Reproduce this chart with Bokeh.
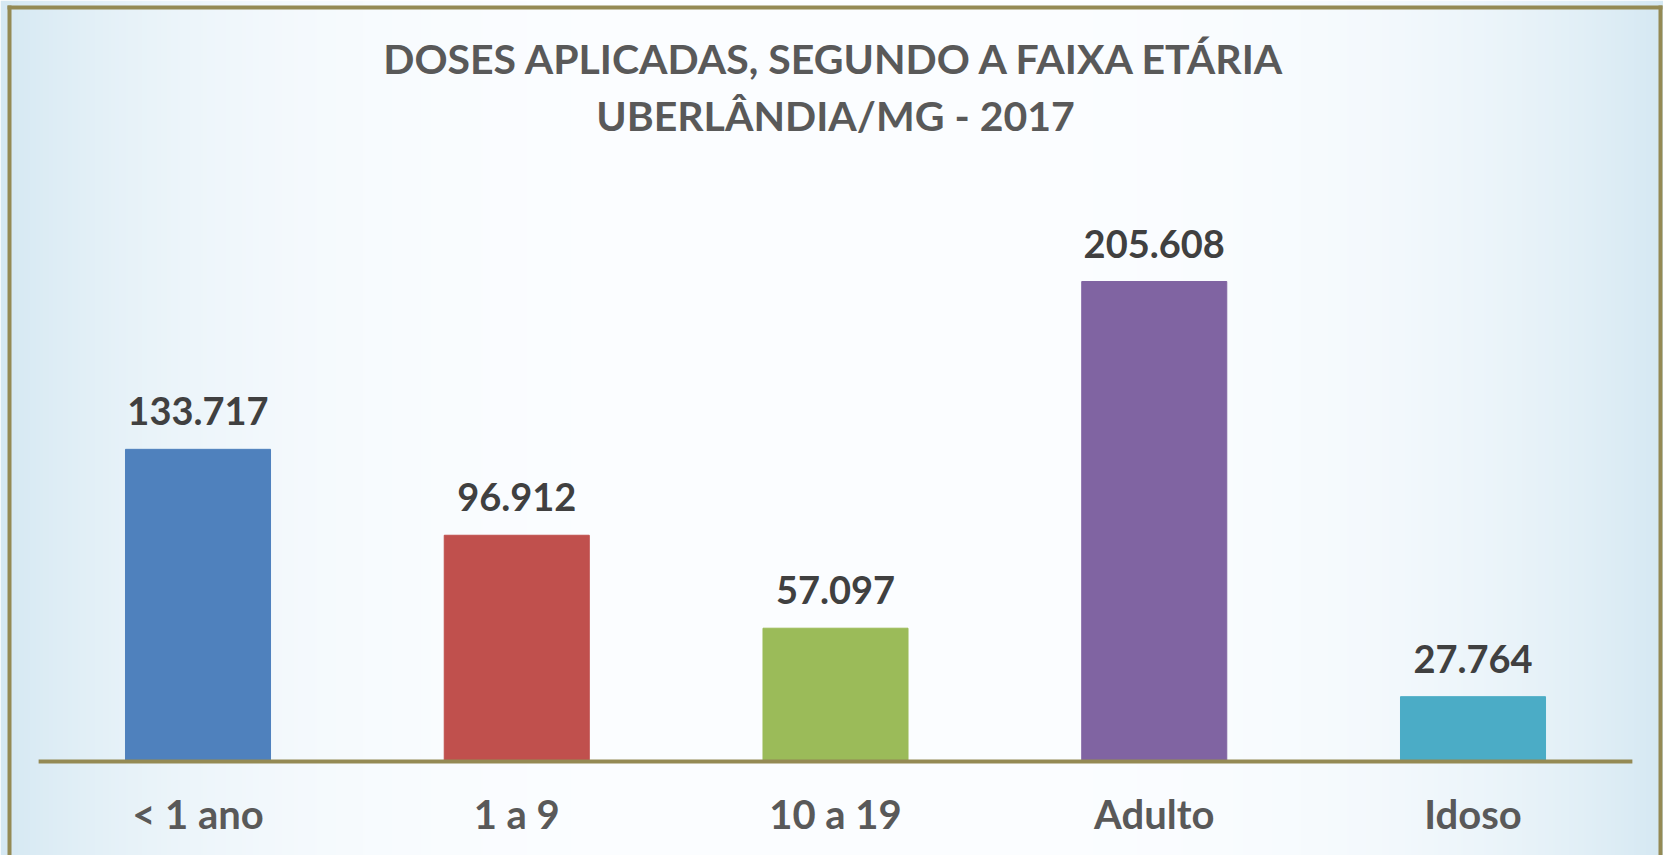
import numpy as np
from bokeh.plotting import figure
from bokeh.models import Range1d, ColumnDataSource
from bokeh.core.properties import value
from bokeh.embed import file_html
from bokeh.resources import INLINE

# ---- data ----
categories = ["< 1 ano", "1 a 9", "10 a 19", "Adulto", "Idoso"]
doses = [133717, 96912, 57097, 205608, 27764]
dose_labels = ["133.717", "96.912", "57.097", "205.608", "27.764"]
bar_colors = ["#4F81BD", "#C0504D", "#9BBB59", "#8064A2", "#4BACC6"]
title_lines = ["DOSES APLICADAS, SEGUNDO A FAIXA ETÁRIA", "UBERLÂNDIA/MG - 2017"]

# ---- layout / style ----
W, H = 1663, 855
px_per_cat = 318.75          # horizontal pixels per category
units_per_px = 428.35        # data units per vertical pixel
axis_px = 761                # axis line position from top (px)
centre_px = 835              # horizontal pixel of the middle category
FONT = value("Lato")
OLIVE = "#948A54"

n = len(categories)
xs = list(range(n))
xc = (n - 1) / 2
x0 = xc - centre_px / px_per_cat
x1 = x0 + W / px_per_cat
y0 = -(H - axis_px) * units_per_px
y1 = axis_px * units_per_px


def px_to_x(px):
    return x0 + px / px_per_cat


def px_to_y(py):
    return (axis_px - py) * units_per_px


p = figure(width=W, height=H, x_range=Range1d(x0, x1), y_range=Range1d(y0, y1),
           output_backend="svg", toolbar_location=None,
           x_axis_location=None, y_axis_location=None,
           min_border=0, min_border_left=0, min_border_right=0,
           min_border_top=0, min_border_bottom=0,
           outline_line_color=None, border_fill_color="white",
           background_fill_color="white")
p.grid.visible = False

# background gradient (light blue edges, white centre)
N = 800
t = np.abs(np.linspace(-1, 1, N))
f = t ** 3.75
edge = np.array([0xD5, 0xE8, 0xF2], dtype=float)
centre = np.array([0xFB, 0xFD, 0xFF], dtype=float)
rgb = centre[None, :] + (edge - centre)[None, :] * f[:, None]
img = np.zeros((2, N), dtype=np.uint32)
view = img.view(dtype=np.uint8).reshape((2, N, 4))
for r in range(2):
    view[r, :, 0:3] = np.round(rgb).astype(np.uint8)
    view[r, :, 3] = 255
p.image_rgba(image=[img], x=x0, y=y0, dw=x1 - x0, dh=y1 - y0)

# bars
src = ColumnDataSource(dict(x=xs, top=doses, color=bar_colors, lab=dose_labels, cat=categories,
                            zero=[0] * n))
p.vbar(x="x", top="top", bottom=0, width=0.455, color="color", source=src)

# category axis line
p.line(x=[-0.5, n - 0.5], y=[0, 0], line_color=OLIVE, line_width=4, line_cap="butt")

# value labels
p.text(x="x", y="top", text="lab", source=src, text_align="center",
       text_baseline="alphabetic", y_offset=-38, text_font=FONT,
       text_font_style="bold", text_font_size="38px", text_color="#404040")

# category labels
p.text(x="x", y="zero", text="cat", source=src, text_align="center",
       text_baseline="alphabetic", y_offset=52, text_font=FONT,
       text_font_style="bold", text_font_size="40px", text_color="#595959")

# title
p.text(x=[xc, xc], y=[px_to_y(58), px_to_y(115)], text=title_lines,
       text_align="center", text_baseline="alphabetic", text_font=FONT,
       text_font_style="bold", text_font_size="41px", text_color="#595959")

# slide frame
p.line(x=[px_to_x(9), px_to_x(9)], y=[y0, px_to_y(5)], line_color=OLIVE, line_width=4)
p.line(x=[px_to_x(1660), px_to_x(1660)], y=[y0, px_to_y(5)], line_color=OLIVE, line_width=4)
p.line(x=[px_to_x(7), px_to_x(1662)], y=[px_to_y(7), px_to_y(7)], line_color=OLIVE,
       line_width=4)

open("out.html", "w").write(file_html(p, INLINE))
